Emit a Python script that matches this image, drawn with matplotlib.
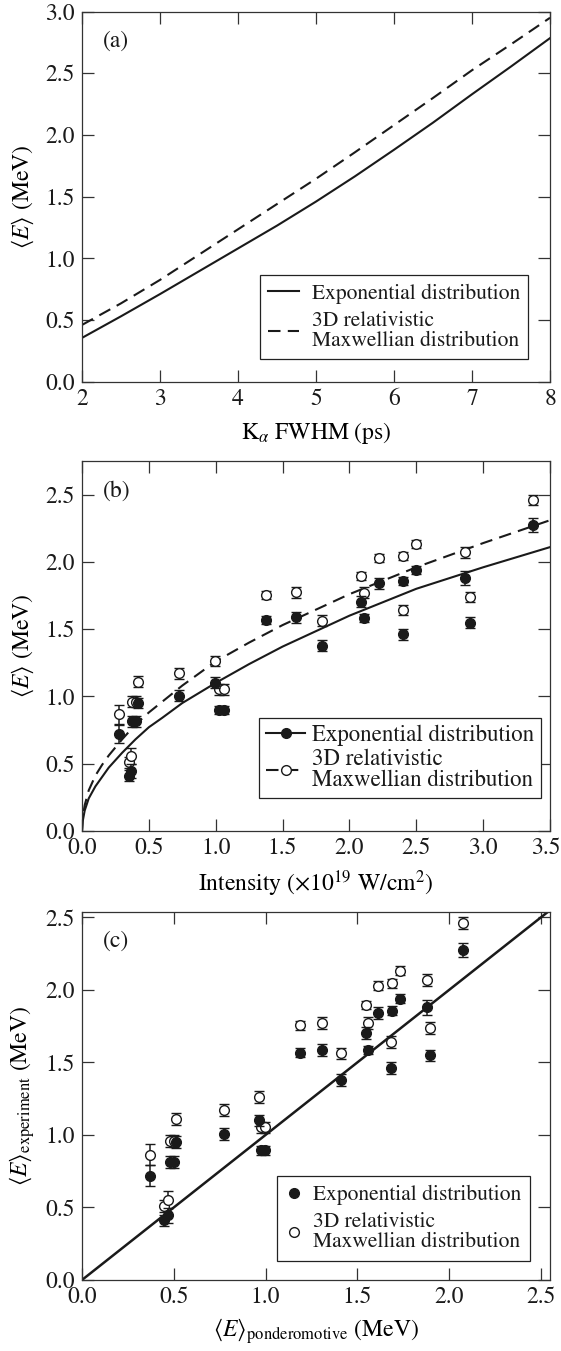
import numpy as np
import matplotlib
matplotlib.use("Agg")
import matplotlib.pyplot as plt
from matplotlib.lines import Line2D
from matplotlib.ticker import FormatStrFormatter
from matplotlib.transforms import ScaledTranslation

plt.rcParams['font.family'] = ['STIXGeneral', 'Liberation Serif', 'DejaVu Serif']
plt.rcParams['mathtext.fontset'] = 'stix'
plt.rcParams['font.size'] = 17
plt.rcParams['axes.linewidth'] = 0.9
plt.rcParams['xtick.direction'] = 'in'
plt.rcParams['ytick.direction'] = 'in'
plt.rcParams['xtick.top'] = True
plt.rcParams['ytick.right'] = True
plt.rcParams['xtick.major.size'] = 8.5
plt.rcParams['ytick.major.size'] = 8.5
plt.rcParams['xtick.major.width'] = 0.9
plt.rcParams['ytick.major.width'] = 0.9

INK = '#1a1a1a'

# ---- panel (a): mean energy vs K-alpha FWHM
fwhm = [2.0, 2.5, 3.0, 3.5, 4.0, 4.5, 5.0, 5.5, 6.0, 6.5, 7.0, 7.5, 8.0]
e_exp_a = [0.355, 0.53, 0.71, 0.895, 1.08, 1.265, 1.46, 1.665, 1.88, 2.10, 2.33, 2.555, 2.785]
e_max_a = [0.46, 0.635, 0.825, 1.03, 1.235, 1.44, 1.645, 1.86, 2.08, 2.30, 2.525, 2.735, 2.95]

# ---- panel (b): fitted curves vs intensity
fit_i = [0.0, 0.005, 0.02, 0.05, 0.1, 0.15, 0.2, 0.3, 0.4, 0.5, 0.6, 0.75, 1.0,
         1.25, 1.5, 2.0, 2.5, 3.0, 3.5]
fit_exp = [0.0, 0.07, 0.15, 0.24, 0.33, 0.40, 0.47, 0.58, 0.68, 0.77, 0.84, 0.95, 1.10,
           1.24, 1.37, 1.60, 1.80, 1.96, 2.11]
fit_max = [0.0, 0.10, 0.19, 0.30, 0.41, 0.49, 0.56, 0.68, 0.79, 0.88, 0.96, 1.08, 1.26,
           1.40, 1.53, 1.76, 1.96, 2.14, 2.31]

# ---- measured shots
intensity = [0.274, 0.349, 0.366, 0.374, 0.404, 0.416, 0.728, 0.997, 1.022, 1.06, 1.379,
             1.598, 1.797, 2.087, 2.106, 2.224, 2.401, 2.50, 2.401, 2.862, 2.899, 3.373]
e_pond = [0.372, 0.448, 0.466, 0.481, 0.503, 0.514, 0.775, 0.962, 0.977, 0.998, 1.189,
          1.309, 1.411, 1.548, 1.558, 1.612, 1.688, 1.730, 1.685, 1.879, 1.897, 2.075]
e_exp = [0.72, 0.41, 0.445, 0.815, 0.815, 0.95, 1.005, 1.10, 0.895, 0.895, 1.568,
         1.587, 1.378, 1.705, 1.585, 1.842, 1.858, 1.94, 1.46, 1.88, 1.548, 2.275]
err_exp = [0.07, 0.04, 0.05, 0.04, 0.04, 0.04, 0.04, 0.04, 0.03, 0.03, 0.03,
           0.04, 0.04, 0.04, 0.03, 0.04, 0.03, 0.03, 0.04, 0.05, 0.04, 0.05]
e_max = [0.865, 0.51, 0.553, 0.96, 0.96, 1.11, 1.17, 1.263, 1.052, 1.052, 1.757,
         1.773, 1.562, 1.897, 1.77, 2.03, 2.045, 2.132, 1.642, 2.07, 1.738, 2.46]
err_max = [0.07, 0.04, 0.06, 0.04, 0.04, 0.04, 0.04, 0.04, 0.04, 0.04, 0.03,
           0.04, 0.04, 0.03, 0.04, 0.03, 0.03, 0.03, 0.04, 0.04, 0.04, 0.04]

ideal = [0.0, 2.6]

lab_exp = 'Exponential distribution'
lab_max = '3D relativistic\nMaxwellian distribution'

fig = plt.figure(figsize=(5.61, 13.51), dpi=100)
ax_a = fig.add_axes([0.1462, 0.7175, 0.8342, 0.2739])
ax_b = fig.add_axes([0.1462, 0.3851, 0.8342, 0.2736])
ax_c = fig.add_axes([0.1462, 0.0526, 0.8342, 0.2726])

for ax in (ax_a, ax_b, ax_c):
    for s in ax.spines.values():
        s.set_color('#333333')
    ax.tick_params(colors='#333333', labelcolor=INK, pad=5)


def style_legend(leg):
    leg.get_frame().set_edgecolor('#222222')
    leg.get_frame().set_linewidth(0.9)
    for t in leg.get_texts():
        t.set_linespacing(1.0)
        t.set_color(INK)


def draw_points(ax, xs):
    ax.errorbar(xs, e_max, yerr=err_max, fmt='o', ms=7, mfc='white', mec=INK, mew=1.0,
                ecolor=INK, elinewidth=1.1, capsize=3.5, capthick=1.1, zorder=3)
    ax.errorbar(xs, e_exp, yerr=err_exp, fmt='o', ms=7, mfc=INK, mec=INK, mew=1.0,
                ecolor=INK, elinewidth=1.1, capsize=3.5, capthick=1.1, zorder=4)


# (a)
ax_a.plot(fwhm, e_exp_a, color=INK, lw=1.5, label=lab_exp)
ax_a.plot(fwhm, e_max_a, color=INK, lw=1.5, dashes=(6, 3.5), label=lab_max)
ax_a.set_xlim(2, 8)
ax_a.set_ylim(0, 3.0)
ax_a.set_xticks(range(2, 9))
ax_a.set_yticks(np.arange(0, 3.01, 0.5))
ax_a.yaxis.set_major_formatter(FormatStrFormatter('%.1f'))
ax_a.set_xlabel(r'K$_{\alpha}$ FWHM (ps)', labelpad=7)
ax_a.set_ylabel(r'$\langle E\rangle$ (MeV)', labelpad=7)
ax_a.text(0.045, 0.92, '(a)', transform=ax_a.transAxes, ha='left', va='center', color=INK)
leg = ax_a.legend(loc='lower left', bbox_to_anchor=(0.38, 0.06), borderaxespad=0,
                  fontsize=15.5, handlelength=1.4, handletextpad=0.6, labelspacing=0.35,
                  borderpad=0.4, fancybox=False, framealpha=1)
style_legend(leg)

# (b)
ax_b.plot(fit_i, fit_exp, color=INK, lw=1.5, zorder=2)
ax_b.plot(fit_i, fit_max, color=INK, lw=1.5, dashes=(6, 3.5), zorder=2)
draw_points(ax_b, intensity)
ax_b.set_xlim(0, 3.5)
ax_b.set_ylim(0, 2.75)
ax_b.set_xticks(np.arange(0, 3.51, 0.5))
ax_b.set_yticks(np.arange(0, 2.51, 0.5))
ax_b.xaxis.set_major_formatter(FormatStrFormatter('%.1f'))
ax_b.yaxis.set_major_formatter(FormatStrFormatter('%.1f'))
ax_b.set_xlabel('Intensity (×10$^{19}$ W/cm$^{2}$)', labelpad=7)
ax_b.set_ylabel(r'$\langle E\rangle$ (MeV)', labelpad=7)
ax_b.text(0.045, 0.92, '(b)', transform=ax_b.transAxes, ha='left', va='center', color=INK)
hb = [Line2D([], [], color=INK, lw=1.5, marker='o', ms=7, mfc=INK, mec=INK),
      Line2D([], [], color=INK, lw=1.5, dashes=(6, 3.5), marker='o', ms=7, mfc='white', mec=INK)]
leg = ax_b.legend(hb, [lab_exp, lab_max], loc='lower left', bbox_to_anchor=(0.379, 0.089),
                  borderaxespad=0, fontsize=16.5, handlelength=1.7, handletextpad=0.3,
                  labelspacing=0.1, borderpad=0.3, fancybox=False, framealpha=1)
style_legend(leg)
# keep the last tick label inside the picture
last = ax_b.get_xticklabels()[-1]
last.set_transform(last.get_transform() + ScaledTranslation(-3 / 72, 0, fig.dpi_scale_trans))

# (c)
ax_c.plot(ideal, ideal, color=INK, lw=1.8, zorder=2)
draw_points(ax_c, e_pond)
ax_c.set_xlim(0, 2.55)
ax_c.set_ylim(0, 2.54)
ax_c.set_xticks(np.arange(0, 2.51, 0.5))
ax_c.set_yticks(np.arange(0, 2.51, 0.5))
ax_c.xaxis.set_major_formatter(FormatStrFormatter('%.1f'))
ax_c.yaxis.set_major_formatter(FormatStrFormatter('%.1f'))
ax_c.set_xlabel(r'$\langle E\rangle_{\rm ponderomotive}$ (MeV)', labelpad=6)
ax_c.set_ylabel(r'$\langle E\rangle_{\rm experiment}$ (MeV)', labelpad=6)
ax_c.text(0.045, 0.92, '(c)', transform=ax_c.transAxes, ha='left', va='center', color=INK)
hc = [Line2D([], [], ls='none', marker='o', ms=7, mfc=INK, mec=INK),
      Line2D([], [], ls='none', marker='o', ms=7, mfc='white', mec=INK)]
leg = ax_c.legend(hc, [lab_exp, lab_max], loc='lower left', bbox_to_anchor=(0.416, 0.052),
                  borderaxespad=0, fontsize=15.5, handlelength=0.8, handletextpad=0.5,
                  labelspacing=0.35, borderpad=0.4, fancybox=False, framealpha=1)
style_legend(leg)

fig.savefig('out.png', dpi=100)
